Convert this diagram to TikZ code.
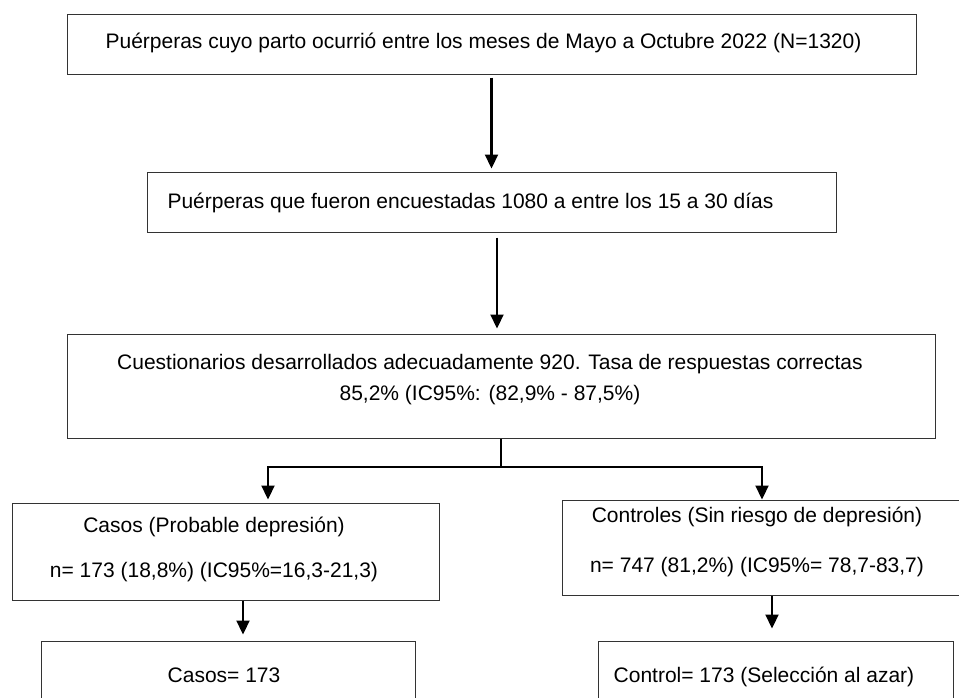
\documentclass[tikz,border=0pt]{standalone}
\usepackage{fontspec}
\setmainfont{Liberation Sans}
\usetikzlibrary{arrows.meta}

\begin{document}
\begin{tikzpicture}[x=1pt,y=-1pt,
  box/.style={draw=black!80,line width=1pt,inner sep=0pt},
  txt/.style={font=\fontsize{21}{25}\selectfont,inner sep=0pt,align=center},
  arr/.style={line width=2.2pt,-{Triangle[width=13pt,length=14pt]}},
  link/.style={line width=2.2pt}]
\useasboundingbox (0,0) rectangle (959,697);
\clip (0,0) rectangle (959,697);

% boxes
\node[box,minimum width=849pt,minimum height=60pt] (start) at (491.5,44) {};
\node[box,minimum width=689pt,minimum height=60pt] (survey) at (491.5,202) {};
\node[box,minimum width=868pt,minimum height=104pt] (quest) at (501,386) {};
\node[box,minimum width=427pt,minimum height=97pt] (cases) at (225.5,551.5) {};
\node[box,minimum width=413pt,minimum height=95pt] (controls) at (768.5,547.5) {};
\node[box,minimum width=374pt,minimum height=79pt] (casesSel) at (228,680.5) {};
\node[box,minimum width=355pt,minimum height=79pt] (controlSel) at (775.5,680.5) {};

% texts
\node[txt] (startT) at (483.5,43) {Puérperas cuyo parto ocurrió entre los meses de Mayo a Octubre 2022 (N=1320)};
\node[txt] (surveyT) at (470.5,203) {Puérperas que fueron encuestadas 1080 a entre los 15 a 30 días};
\node[txt] (questT) at (490,379.5) {Cuestionarios desarrollados adecuadamente 920. Tasa de respuestas correctas\\[6pt]
  85,2\% (IC95\%: (82,9\% - 87,5\%)};
\node[txt] (casesT) at (214,549.5) {Casos (Probable depresión)\\[20pt]
  n= 173 (18,8\%) (IC95\%=16,3-21,3)};
\node[txt] (controlsT) at (757,542) {Controles (Sin riesgo de depresión)\\[25pt]
  n= 747 (81,2\%) (IC95\%= 78,7-83,7)};
\node[txt] (casesSelT) at (224,675) {Casos= 173};
\node[txt] (controlSelT) at (764,677) {Control= 173 (Selección al azar)};

% connectors
\coordinate (split) at (501,467);
\draw[arr,shorten <=3pt,shorten >=3pt] (start.south) -- (survey.north);
\draw[arr,shorten <=5pt,shorten >=5pt] ([xshift=5.5pt]survey.south) -- ([xshift=5.5pt]survey.south |- quest.north);
\draw[link] (quest.south) -- (split);
\draw[arr,shorten >=3pt] (split) -| ([xshift=42.5pt]cases.north);
\draw[arr] (split) -| ([xshift=-6.5pt]controls.north);
\draw[arr,shorten >=6pt] ([xshift=17.5pt]cases.south) -- ([xshift=17.5pt]cases.south |- casesSel.north);
\draw[arr,shorten >=12pt] ([xshift=3.5pt]controls.south) -- ([xshift=3.5pt]controls.south |- controlSel.north);
\end{tikzpicture}
\end{document}
